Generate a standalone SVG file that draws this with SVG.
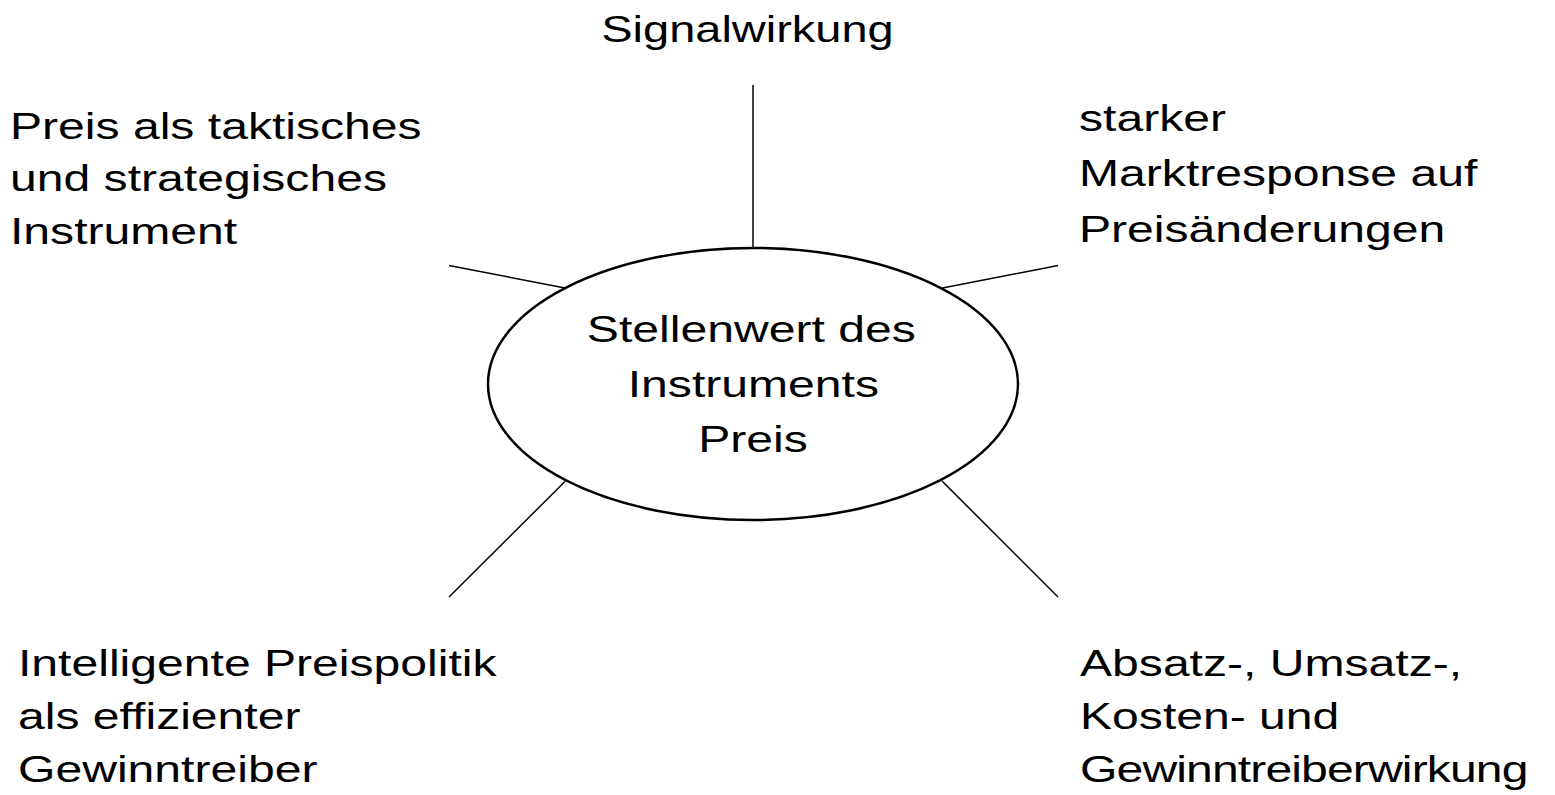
<svg xmlns="http://www.w3.org/2000/svg" width="1555" height="795" viewBox="0 0 1555 795">
  <style>
    .lbl { font-family: "Liberation Sans", Arial, sans-serif; font-size: 37px; fill: #000; }
    .mid { text-anchor: middle; }
    .spoke { stroke: #000; stroke-width: 1.5; fill: none; }
    .hub { stroke: #000; stroke-width: 2.5; fill: #fff; }
  </style>
  <rect width="1555" height="795" fill="#fff"/>

  <!-- spokes from the central ellipse -->
  <g id="connectors">
    <line class="spoke" x1="753" y1="85" x2="753" y2="248"/>
    <line class="spoke" x1="449" y1="265.5" x2="565" y2="288"/>
    <line class="spoke" x1="1058" y1="265.5" x2="942.5" y2="288"/>
    <line class="spoke" x1="565" y1="481.5" x2="449" y2="597"/>
    <line class="spoke" x1="942" y1="481" x2="1058" y2="597"/>
  </g>

  <!-- central node -->
  <g id="node-center">
    <ellipse class="hub" cx="753" cy="384" rx="265" ry="136"/>
    <text class="lbl mid" transform="matrix(1.3 0 0 1 753 341.5)">
      <tspan x="3.8" y="0">Stellenwert des</tspan>
      <tspan x="5.4" y="55.5">Instruments</tspan>
      <tspan x="0" y="111">Preis</tspan>
    </text>
  </g>

  <g id="node-top">
    <text class="lbl mid" transform="matrix(1.27 0 0 1 747.5 41.5)"><tspan x="0" y="0">Signalwirkung</tspan></text>
  </g>

  <g id="node-top-left">
    <text class="lbl" transform="matrix(1.3 0 0 1 10 139)">
      <tspan x="0" y="0">Preis als taktisches</tspan>
      <tspan x="0" y="52.5">und strategisches</tspan>
      <tspan x="0" y="105">Instrument</tspan>
    </text>
  </g>

  <g id="node-top-right">
    <text class="lbl" transform="matrix(1.3 0 0 1 1079 131)">
      <tspan x="0" y="0">starker</tspan>
      <tspan x="0" y="55.5">Marktresponse auf</tspan>
      <tspan x="0" y="111">Preisänderungen</tspan>
    </text>
  </g>

  <g id="node-bottom-left">
    <text class="lbl" transform="matrix(1.3 0 0 1 18 676)">
      <tspan x="0" y="0">Intelligente Preispolitik</tspan>
      <tspan x="0" y="53">als effizienter</tspan>
      <tspan x="0" y="106">Gewinntreiber</tspan>
    </text>
  </g>

  <g id="node-bottom-right">
    <text class="lbl" transform="matrix(1.3 0 0 1 1080 676)">
      <tspan x="0" y="0">Absatz-, Umsatz-,</tspan>
      <tspan x="0" y="53">Kosten- und</tspan>
      <tspan x="0" y="106" textLength="345">Gewinntreiberwirkung</tspan>
    </text>
  </g>
</svg>
